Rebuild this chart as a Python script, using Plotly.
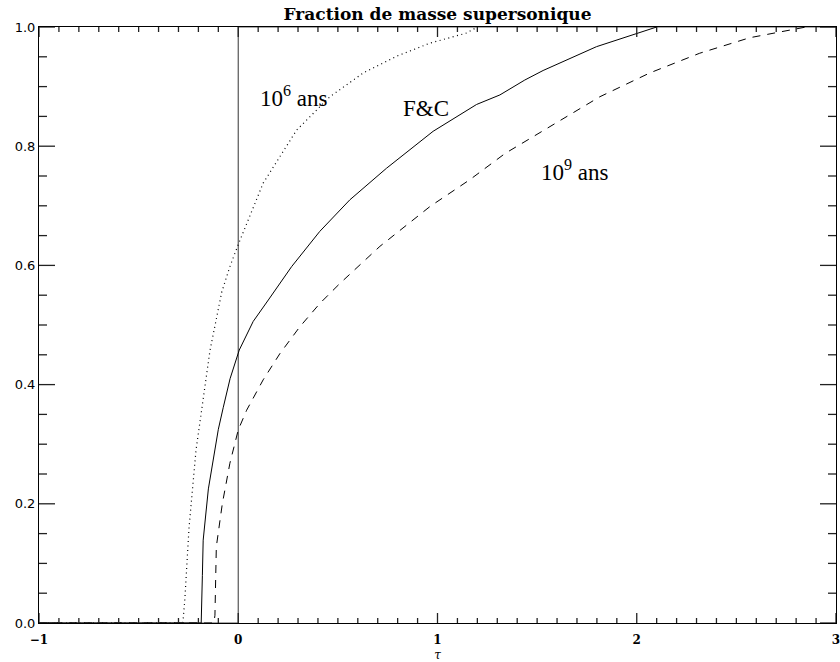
import numpy as np
import plotly.graph_objects as go

# tau (x) and supersonic mass fraction (y) for each curve
tau_1e6 = [-1.0, -0.278, -0.268, -0.255, -0.247, -0.212, -0.142, -0.083, -0.042, 0.0,
           0.125, 0.293, 0.46, 0.628, 0.795, 0.963, 1.147, 1.2]
frac_1e6 = [0.0, 0.0, 0.04, 0.11, 0.16, 0.29, 0.457, 0.555, 0.598, 0.635,
            0.738, 0.827, 0.883, 0.923, 0.951, 0.973, 0.99, 1.0]

tau_fc = [-1.0, -0.186, -0.18, -0.176, -0.15, -0.117, -0.1, -0.075, -0.041, 0.005,
          0.075, 0.151, 0.268, 0.409, 0.56, 0.744, 0.978, 1.196, 1.313, 1.438,
          1.53, 1.798, 1.999, 2.1]
frac_fc = [0.0, 0.0, 0.08, 0.139, 0.225, 0.296, 0.325, 0.362, 0.41, 0.458,
           0.506, 0.542, 0.598, 0.657, 0.71, 0.763, 0.825, 0.87, 0.886, 0.911,
           0.927, 0.967, 0.989, 1.0]

tau_1e9 = [-1.0, -0.122, -0.117, -0.11, -0.08, -0.042, 0.0, 0.042, 0.125, 0.209,
           0.309, 0.409, 0.511, 0.711, 0.963, 1.163, 1.34, 1.564, 1.815, 2.066,
           2.316, 2.567, 2.793, 2.85]
frac_1e9 = [0.0, 0.0, 0.013, 0.128, 0.2, 0.268, 0.324, 0.357, 0.408, 0.452,
            0.497, 0.536, 0.57, 0.632, 0.699, 0.744, 0.788, 0.833, 0.883, 0.923,
            0.956, 0.982, 0.997, 1.0]

tau_step = [-1.0, 0.0, 0.0, 3.0]
frac_step = [0.0, 0.0, 1.0, 1.0]

x_ticks = [-1, 0, 1, 2, 3]
y_ticks = [0.0, 0.2, 0.4, 0.6, 0.8, 1.0]
x_minor_step = 0.1
y_minor_step = 0.05

W, H = 840, 662
M = dict(l=39, r=4, t=27, b=39)

fig = go.Figure()
fig.add_trace(go.Scatter(x=tau_step, y=frac_step, mode="lines",
                         line=dict(color="#555555", width=1.2), showlegend=False))
fig.add_trace(go.Scatter(x=tau_1e6, y=frac_1e6, mode="lines",
                         line=dict(color="black", width=1.2, dash="1px,3.5px"), showlegend=False))
fig.add_trace(go.Scatter(x=tau_fc, y=frac_fc, mode="lines",
                         line=dict(color="black", width=1), showlegend=False))
fig.add_trace(go.Scatter(x=tau_1e9, y=frac_1e9, mode="lines",
                         line=dict(color="black", width=1, dash="8px,7px"), showlegend=False))

label_font = dict(family="Liberation Serif", size=23, color="black")
fig.add_annotation(x=0.099, y=0.884, text="10<sup>6</sup> ans", showarrow=False,
                   xanchor="left", yanchor="middle", font=label_font)
fig.add_annotation(x=0.815, y=0.864, text="F&amp;C", showarrow=False,
                   xanchor="left", yanchor="middle", font=label_font)
fig.add_annotation(x=1.51, y=0.759, text="10<sup>9</sup> ans", showarrow=False,
                   xanchor="left", yanchor="middle", font=label_font)

# inside tick marks on all four sides, derived from the tick lists
x0, x1 = x_ticks[0], x_ticks[-1]
y0, y1 = y_ticks[0], y_ticks[-1]
px_x = (x1 - x0) / (W - M["l"] - M["r"])   # data units per pixel, x
px_y = (y1 - y0) / (H - M["t"] - M["b"])   # data units per pixel, y
x_minor = [v for v in np.round(np.arange(x0, x1 + 1e-9, x_minor_step), 6)
           if not any(abs(v - t) < 1e-9 for t in x_ticks)]
y_minor = [v for v in np.round(np.arange(y0, y1 + 1e-9, y_minor_step), 6)
           if not any(abs(v - t) < 1e-9 for t in y_ticks)]
tx, ty = [], []
for vals, ln in ((x_ticks, 10), (x_minor, 5)):
    for v in vals:
        tx += [v, v, None, v, v, None]
        ty += [y0, y0 + ln * px_y, None, y1, y1 - ln * px_y, None]
for vals, ln in ((y_ticks, 16), (y_minor, 8)):
    for v in vals:
        tx += [x0, x0 + ln * px_x, None, x1, x1 - ln * px_x, None]
        ty += [v, v, None, v, v, None]
fig.add_trace(go.Scatter(x=tx, y=ty, mode="lines", line=dict(color="#222222", width=1.3),
                         hoverinfo="skip", showlegend=False, connectgaps=False,
                         cliponaxis=False))

axis_common = dict(showgrid=False, zeroline=False, showline=True, linecolor="black",
                   linewidth=1, mirror=True, ticks="", ticklabeloverflow="allow",
                   automargin=False)

fig.update_xaxes(range=[x0, x1], tickmode="array", tickvals=x_ticks,
                 ticktext=[("\u2212" + str(-t)) if t < 0 else str(t) for t in x_ticks],
                 ticklabelstandoff=6,
                 tickfont=dict(family="DejaVu Serif", size=12, color="black", weight="bold"),
                 title=dict(text="τ", font=dict(family="DejaVu Serif", size=12, color="black", style="italic"),
                            standoff=8),
                 **axis_common)
fig.update_yaxes(range=[y0, y1], tickmode="array", tickvals=y_ticks,
                 ticktext=["%.1f" % t for t in y_ticks],
                 tickfont=dict(family="DejaVu Sans", size=13, color="black"),
                 **axis_common)

fig.update_layout(
    template="none",
    width=W, height=H,
    margin=M,
    paper_bgcolor="white", plot_bgcolor="white",
    title=dict(text="<b>Fraction de masse supersonique</b>", x=0.5, xref="paper",
               y=1 - 14 / H, yanchor="middle",
               font=dict(family="DejaVu Serif", size=17, color="black")),
)

fig.write_html("out.html", config={"displayModeBar": False},
               post_script="document.body.style.margin='0px';document.body.style.overflow='hidden';")
